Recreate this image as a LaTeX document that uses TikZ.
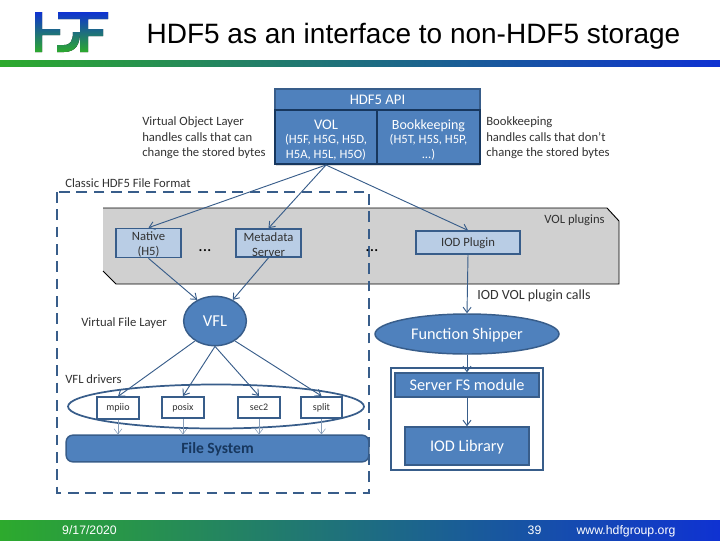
\documentclass[tikz,border=0pt]{standalone}
\usepackage{fontspec}
\setmainfont{Carlito}
\newfontfamily\arialfont{Liberation Sans}
\usetikzlibrary{arrows.meta,positioning,shadows,shapes.geometric}
\definecolor{hdfblue}{RGB}{79,129,189}
\definecolor{hdfedge}{RGB}{56,93,138}
\definecolor{hdfnavy}{RGB}{23,55,94}
\definecolor{hdflight}{RGB}{185,205,229}
\definecolor{bannergray}{RGB}{208,208,208}
\definecolor{bargreen}{RGB}{45,170,45}
\definecolor{barblue}{RGB}{15,50,210}
\definecolor{notetext}{RGB}{50,50,50}

\begin{document}
\begin{tikzpicture}[x=0.75pt,y=-0.75pt, every node/.style={font=\fontsize{9.5}{12}\selectfont,inner sep=0pt},
 apibox/.style={draw=hdfnavy,line width=1.5pt,fill=hdfblue,text=white,align=center,minimum height=40.5pt,drop shadow={shadow xshift=0.4pt,shadow yshift=-1.2pt,opacity=0.3}},
 pluginbox/.style={draw=hdfedge,line width=1.2pt,fill=hdflight,text=notetext,align=center,minimum height=21pt},
 driverbox/.style={draw=hdfedge,line width=1.3pt,fill=white,text=notetext,font=\fontsize{7.5}{9}\selectfont,minimum width=31pt,minimum height=16pt},
 solidbox/.style={draw=hdfedge,line width=1.1pt,fill=hdfblue,text=white,text depth=0pt,font=\fontsize{12.2}{14}\selectfont},
 note/.style={anchor=west,align=left,text=notetext},
 footnote/.style={anchor=base,font=\arialfont\fontsize{9.2}{11}\selectfont,text=white},
 flow/.style={draw=hdfedge,line width=0.7pt,-{Straight Barb[length=4pt,width=6pt]}},
 thinflow/.style={draw=hdfedge!60,line width=0.4pt,-{Straight Barb[length=4pt,width=6pt]}}]
\useasboundingbox (0,0) rectangle (720,540);
% header and footer
\fill[left color=bargreen,right color=barblue] (0,60) rectangle (720,66);
\fill[left color=bargreen,right color=barblue] (0,520) rectangle (720,540);
\fill[top color=barblue,bottom color=bargreen] (35,12) rectangle (42,52) (42,29) rectangle (60,35)
 (58,12) -- (108,12) -- (108,19) -- (88,19) -- (88,29) -- (103,29) -- (103,36) -- (88,36) -- (88,52) -- (80,52) -- (80,19) -- (58,19) -- cycle
 (57,45) -- (64,45) .. controls (71,45) and (73,40) .. (73,32) -- (80,32) .. controls (80,44) and (76,52) .. (64,52) -- (57,52) -- cycle;
\node[font=\arialfont\fontsize{21}{24}\selectfont] (title) at (413.5,36) {HDF5 as an interface to non-HDF5 storage};
\node[footnote] (date) at (89.5,534) {9/17/2020};
\node[footnote] (page) at (534.5,534) {39};
\node[footnote] (site) at (626,534) {www.hdfgroup.org};
% VOL plugins banner
\fill[bannergray] (103,208) -- (607,208) -- (619,221) -- (619,284) -- (116,284) -- (103,271) -- cycle;
\draw[black,line width=0.7pt] (103,208) -- (607,208) -- (619,221) -- (619,284) -- (116,284) -- (103,271);
\node[anchor=east,text=notetext] (plugins) at (605,220) {VOL plugins};
% classic format frame
\draw[hdfedge,line width=1.2pt,dash pattern=on 8pt off 5pt] (57,192) rectangle (369,493);
\node[note] (classic) at (65,183) {Classic HDF5 File Format};
% API
\node[apibox,minimum width=153.5pt,minimum height=15.5pt,draw=hdfedge,text depth=0pt,font=\fontsize{11}{13}\selectfont] (api) at (377.5,99.5) {HDF5 API};
\node[apibox,minimum width=76.5pt] (vol) at (326,137) {\rule{0pt}{11.5pt}{\fontsize{11}{13}\selectfont VOL}\\[-1pt](H5F, H5G, H5D,\\[-1pt]H5A, H5L, H5O)};
\node[apibox,minimum width=77pt] (book) at (428.5,137) {\rule{0pt}{11.5pt}{\fontsize{10.5}{13}\selectfont Bookkeeping}\\[-1pt](H5T, H5S, H5P,\\[-1pt]...)};
\node[note,font=\fontsize{9.5}{11.6}\selectfont] (volnote) at (142,138) {Virtual Object Layer\\handles calls that can\\change the stored bytes};
\node[note,font=\fontsize{9.5}{11.6}\selectfont] (booknote) at (486,138) {Bookkeeping\\handles calls that don't\\change the stored bytes};
% plugins
\node[pluginbox,minimum width=49pt] (native) at (148.5,243) {\rule{0pt}{9pt}Native\\[-0.5pt](H5)};
\node[pluginbox,minimum width=49pt] (metadata) at (268.5,243) {\rule{0pt}{9pt}Metadata\\[-0.5pt]Server};
\node[pluginbox,minimum width=78pt,minimum height=17pt,text depth=0pt] (iod) at (468,242.5) {IOD Plugin};
\node[text=black,font=\fontsize{13}{14}\selectfont] (dotsa) at (205,251) {...};
\node[text=black,font=\fontsize{13}{14}\selectfont] (dotsb) at (372,251) {...};
% VFL
\node[ellipse,draw=hdfedge,line width=1.1pt,fill=hdfblue,text=white,text depth=0pt,minimum width=47pt,minimum height=37pt,font=\fontsize{12.5}{14}\selectfont] (vfl) at (215,321) {VFL};
\node[note] (vflnote) at (81,323) {Virtual File Layer};
\node[note] (drvnote) at (65,379) {VFL drivers};
\node[ellipse,draw=hdfedge,line width=1.3pt,fill=white,minimum width=222pt,minimum height=33pt] (drivers) at (216,406.5) {};
\node[driverbox] (mpiio) at (118,408) {mpiio};
\node[driverbox] (posix) at (183,407.5) {posix};
\node[driverbox] (sec) at (259,407.5) {sec2};
\node[driverbox] (split) at (321.5,407.5) {split};
\node[solidbox,rounded corners=5pt,minimum width=227pt,minimum height=20pt,text=hdfnavy,font=\fontsize{11.7}{14}\selectfont] (fs) at (217.5,448.5) {\textbf{File System}};
% right hand stack
\node[note,font=\fontsize{10.5}{12}\selectfont] (callsnote) at (477,296) {IOD VOL plugin calls};
\node[ellipse,draw=hdfedge,line width=1.1pt,fill=hdfblue,text=white,text depth=0pt,minimum width=138pt,minimum height=30pt,font=\fontsize{12.2}{14}\selectfont] (shipper) at (467,334) {Function Shipper};
\node[draw=hdfedge,line width=1.2pt,fill=white,minimum width=114pt,minimum height=76.5pt] (server) at (467,419) {};
\node[solidbox,minimum width=108pt,minimum height=18pt] (fsmodule) at (467,385) {Server FS module};
\node[solidbox,minimum width=93pt,minimum height=28.5pt] (library) at (467,446) {IOD Library};
% connectors
\draw[flow] (vol.south) -- (native.north);
\draw[flow] (vol.south) -- (metadata.north);
\draw[flow] (vol.south) -- (iod.north);
\draw[flow] (native.south) -- (vfl.130);
\draw[flow] (metadata.south) -- (vfl.50);
\draw[flow] (vfl.225) -- (mpiio.north);
\draw[flow] (vfl.south) -- (posix.north);
\draw[flow] (vfl.south) -- (sec.north);
\draw[flow] (vfl.315) -- (split.north);
\draw[thinflow] (mpiio.south) -- (mpiio.south |- fs.north);
\draw[thinflow] (posix.south) -- (posix.south |- fs.north);
\draw[thinflow] (sec.south) -- (sec.south |- fs.north);
\draw[thinflow] (split.south) -- (split.south |- fs.north);
\draw[flow] (iod.south) -- (shipper.north);
\draw[flow] (shipper.south) -- (fsmodule.north);
\draw[flow] (fsmodule.south) -- (library.north);
\end{tikzpicture}
\end{document}
